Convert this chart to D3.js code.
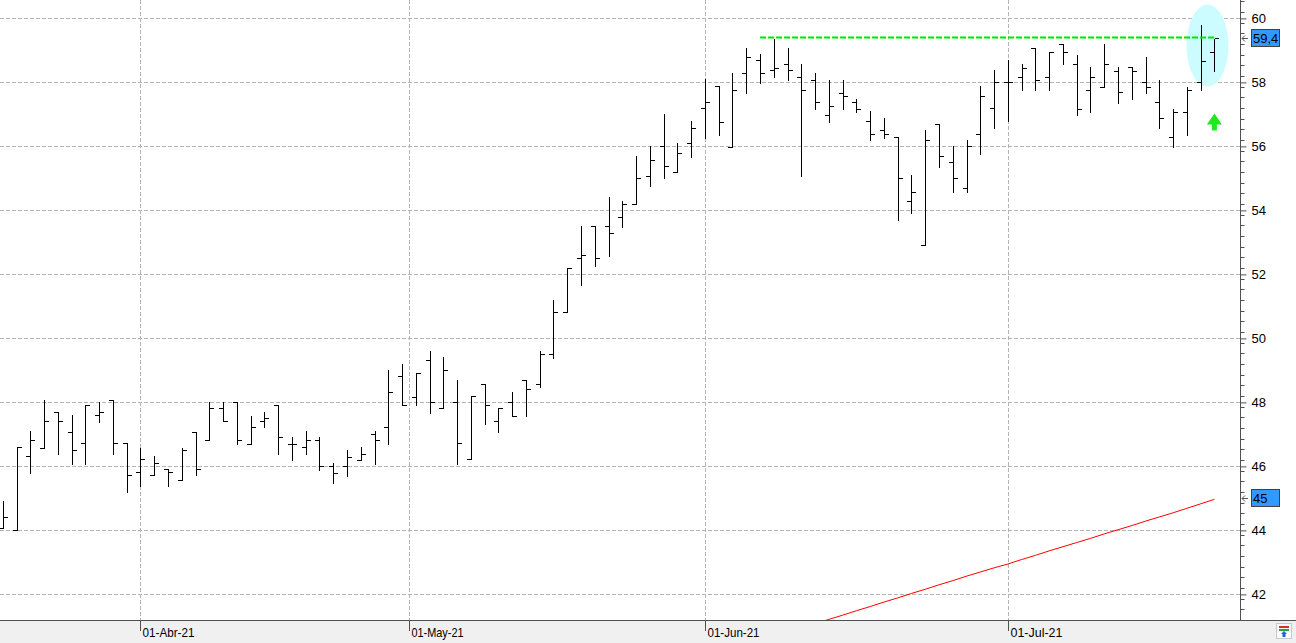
<!DOCTYPE html>
<html>
<head>
<meta charset="utf-8">
<script src="https://cdn.jsdelivr.net/npm/d3@7/dist/d3.min.js"></script>
<style>
  body { margin: 0; background: #fff; overflow: hidden; }
  svg { display: block; }
</style>
</head>
<body>
<svg id="chart"></svg>
<script>
// Trading days (Mar 18 - Jul 22, 2021)
const dates = [
  '2021-03-18','2021-03-19','2021-03-22','2021-03-23','2021-03-24','2021-03-25','2021-03-26','2021-03-29','2021-03-30','2021-03-31',
  '2021-04-01','2021-04-06','2021-04-07','2021-04-08','2021-04-09','2021-04-12','2021-04-13','2021-04-14','2021-04-15','2021-04-16',
  '2021-04-19','2021-04-20','2021-04-21','2021-04-22','2021-04-23','2021-04-26','2021-04-27','2021-04-28','2021-04-29','2021-04-30',
  '2021-05-03','2021-05-04','2021-05-05','2021-05-06','2021-05-07','2021-05-10','2021-05-11','2021-05-12','2021-05-13','2021-05-14',
  '2021-05-17','2021-05-18','2021-05-19','2021-05-20','2021-05-21','2021-05-24','2021-05-25','2021-05-26','2021-05-27','2021-05-28',
  '2021-05-31','2021-06-01','2021-06-02','2021-06-03','2021-06-04','2021-06-07','2021-06-08','2021-06-09','2021-06-10','2021-06-11',
  '2021-06-14','2021-06-15','2021-06-16','2021-06-17','2021-06-18','2021-06-21','2021-06-22','2021-06-23','2021-06-24','2021-06-25',
  '2021-06-28','2021-06-29','2021-06-30','2021-07-01','2021-07-02','2021-07-05','2021-07-06','2021-07-07','2021-07-08','2021-07-09',
  '2021-07-12','2021-07-13','2021-07-14','2021-07-15','2021-07-16','2021-07-19','2021-07-20','2021-07-21','2021-07-22'
];

const opens = [
  44.09,44.00,46.31,46.59,47.69,47.09,46.73,47.60,48.09,46.73,
  45.81,45.72,45.91,45.59,47.09,46.81,47.81,48.00,46.71,47.42,
  47.91,46.71,46.60,46.81,46.00,46.00,46.21,47.00,47.22,48.81,
  48.18,49.31,47.81,48.00,46.22,48.59,47.41,48.00,48.70,48.59,
  49.50,50.81,52.50,53.52,53.50,53.78,54.19,55.09,56.00,55.19,
  56.10,57.19,57.88,55.99,58.28,58.69,58.38,58.58,58.18,58.08,
  56.99,57.68,57.38,56.79,56.50,56.28,54.28,52.91,56.69,55.50,
  54.70,56.38,57.19,58.00,58.18,59.08,58.18,59.19,58.59,57.77,
  57.86,58.36,58.47,58.00,57.38,56.28,57.08,58.00,58.96
];
const highs = [
  44.93,46.60,47.10,48.09,47.69,47.60,47.92,48.00,48.09,46.73,
  46.59,46.31,45.91,46.59,47.09,48.00,48.00,48.00,47.59,47.70,
  47.91,46.91,47.10,46.91,46.10,46.50,46.60,47.10,49.01,49.20,
  48.91,49.60,49.42,48.70,48.20,48.59,47.81,48.31,48.70,49.60,
  51.20,52.19,53.52,53.52,54.42,54.29,55.70,56.00,57.01,56.10,
  56.79,58.10,57.88,58.29,59.09,58.89,59.36,59.09,58.58,58.28,
  58.08,58.08,57.48,57.10,56.88,56.28,55.10,56.51,56.69,56.00,
  56.20,57.88,58.39,58.70,58.59,59.08,58.96,59.19,58.86,58.47,
  59.19,58.47,58.47,58.78,58.08,57.18,57.86,59.78,59.36
];
const lows = [
  44.06,44.00,45.80,46.59,46.40,46.08,46.08,47.40,46.40,45.21,
  45.40,45.72,45.40,45.59,45.72,46.81,47.42,46.71,46.71,47.22,
  46.40,46.21,46.40,45.90,45.49,45.71,46.21,46.08,46.71,47.91,
  47.91,47.68,47.81,46.09,46.22,47.31,47.08,47.59,47.58,48.49,
  49.40,50.81,51.68,52.27,52.58,53.49,54.19,54.77,55.00,55.19,
  55.68,56.26,56.36,55.99,57.68,57.98,58.17,58.07,55.07,57.18,
  56.77,57.18,57.07,56.19,56.27,53.69,53.91,52.91,55.36,54.58,
  54.58,55.77,56.58,56.78,57.76,57.76,57.76,58.57,56.98,57.07,
  57.86,57.35,57.48,57.66,56.57,55.99,56.35,57.76,58.36
];
const closes = [
  44.42,46.60,46.81,47.41,47.41,46.50,47.92,47.69,46.73,45.72,
  46.22,46.10,45.81,46.50,45.91,47.81,47.42,46.81,47.22,47.50,
  46.91,46.71,46.81,46.00,45.80,46.30,46.40,46.81,48.31,47.91,
  48.91,48.00,49.00,46.73,48.20,47.91,47.81,47.59,48.41,49.50,
  50.81,52.19,52.60,52.50,53.28,54.19,55.00,55.59,55.38,55.78,
  56.59,57.38,56.77,57.77,58.78,58.28,58.46,58.38,57.77,57.38,
  57.27,57.58,57.18,56.38,56.38,55.01,54.59,56.20,55.69,55.01,
  56.00,57.59,58.00,58.00,58.46,58.08,58.96,58.96,57.18,58.18,
  58.59,57.69,58.36,57.86,56.88,57.08,57.77,58.68,59.38
];

// Long moving average (red), only the visible tail
const maValues = [
  null,null,null,null,null,null,null,null,null,null,
  null,null,null,null,null,null,null,null,null,null,
  null,null,null,null,null,null,null,null,null,null,
  null,null,null,null,null,null,null,null,null,null,
  null,null,null,null,null,null,null,null,null,null,
  null,null,null,null,null,null,null,null,null,41.08,
  41.22,41.35,41.49,41.62,41.76,41.89,42.03,42.16,42.30,42.43,
  42.57,42.70,42.83,42.95,43.09,43.22,43.36,43.49,43.62,43.75,
  43.89,44.02,44.15,44.29,44.42,44.55,44.69,44.83,44.97
];

const yTicks = [42, 44, 46, 48, 50, 52, 54, 56, 58, 60];
const monthStarts = ['2021-04-01', '2021-05-01', '2021-06-01', '2021-07-01'];
const monthLabels = ['01-Abr-21', '01-May-21', '01-Jun-21', '01-Jul-21'];

// Resistance line and price tags
const resistance = { level: 59.4, from: 55, to: 88 };
const priceTags = [
  { value: 59.4, text: '59,4' },
  { value: 45.0, text: '45' }
];

const W = 1296, H = 643;
const plotW = 1240, plotH = 620;

const svg = d3.select('#chart')
  .attr('width', W)
  .attr('height', H)
  .style('font-family', '"Liberation Sans", Arial, sans-serif');

const x = d3.scaleLinear().domain([-0.2, 89.86]).range([0, plotW]);
const y = d3.scaleLinear().domain([41.2, 60.575]).range([plotH, 0]);

const bars = dates.map((d, i) => ({
  i, date: d, o: opens[i], h: highs[i], l: lows[i], c: closes[i]
}));

// month tick positions (between bars when the 1st is not a trading day)
const monthTicks = monthStarts.map((m, k) => {
  const idx = dates.findIndex(d => d >= m);
  return { pos: dates[idx] === m ? idx : idx - 0.5, label: monthLabels[k] };
});

svg.append('defs').append('clipPath')
  .attr('id', 'plotClip')
  .append('rect')
  .attr('width', plotW)
  .attr('height', plotH);

// background
svg.append('rect').attr('width', W).attr('height', H).attr('fill', '#fff');

// horizontal grid
svg.append('g')
  .selectAll('line')
  .data(yTicks)
  .join('line')
  .attr('x1', 0)
  .attr('x2', plotW)
  .attr('y1', d => Math.round(y(d)) + 0.5)
  .attr('y2', d => Math.round(y(d)) + 0.5)
  .attr('stroke', '#b4b4b4')
  .attr('stroke-dasharray', '4,2');

// vertical grid at month starts
svg.append('g')
  .selectAll('line')
  .data(monthTicks)
  .join('line')
  .attr('x1', d => Math.round(x(d.pos)) + 0.5)
  .attr('x2', d => Math.round(x(d.pos)) + 0.5)
  .attr('y1', 0)
  .attr('y2', plotH)
  .attr('stroke', '#b4b4b4')
  .attr('stroke-dasharray', '4,2');

const plot = svg.append('g').attr('clip-path', 'url(#plotClip)');

// highlight ellipse around the last bars
plot.append('ellipse')
  .attr('cx', x(87.5))
  .attr('cy', y(59.15))
  .attr('rx', 21)
  .attr('ry', 41)
  .attr('fill', '#ccfcff');

// moving average
const maLine = d3.line()
  .defined(d => d != null)
  .x((d, i) => x(i))
  .y(d => y(d));

plot.append('path')
  .datum(maValues)
  .attr('d', maLine)
  .attr('fill', 'none')
  .attr('stroke', '#ff0000')
  .attr('stroke-width', 1);

// OHLC bars
const px = v => Math.round(v) + 0.5;
const barG = plot.append('g')
  .selectAll('g')
  .data(bars)
  .join('g')
  .attr('stroke', '#000')
  .attr('stroke-width', 1)
  .attr('shape-rendering', 'crispEdges');

barG.append('line')
  .attr('x1', d => px(x(d.i)))
  .attr('x2', d => px(x(d.i)))
  .attr('y1', d => Math.round(y(d.h)))
  .attr('y2', d => Math.round(y(d.l)) + 1);

barG.append('line')
  .attr('x1', d => px(x(d.i)) - 4.5)
  .attr('x2', d => px(x(d.i)))
  .attr('y1', d => px(y(d.o)))
  .attr('y2', d => px(y(d.o)));

barG.append('line')
  .attr('x1', d => px(x(d.i)))
  .attr('x2', d => px(x(d.i)) + 4.5)
  .attr('y1', d => px(y(d.c)))
  .attr('y2', d => px(y(d.c)));

// resistance line
plot.append('line')
  .attr('x1', x(resistance.from))
  .attr('x2', x(resistance.to))
  .attr('y1', y(resistance.level))
  .attr('y2', y(resistance.level))
  .attr('stroke', '#00e600')
  .attr('stroke-width', 2)
  .attr('stroke-dasharray', '6,2');

// green up arrow
const ax = x(88), ay = y(57.03);
plot.append('path')
  .attr('d', `M${ax},${ay} L${ax + 7.5},${ay + 11} L${ax + 2.5},${ay + 11} L${ax + 2.5},${ay + 17}
    L${ax - 2.5},${ay + 17} L${ax - 2.5},${ay + 11} L${ax - 7.5},${ay + 11} Z`)
  .attr('fill', '#1ee81e');

// right axis
const axisG = svg.append('g')
  .attr('transform', `translate(${plotW + 0.5},0)`);

axisG.append('line')
  .attr('y1', 0)
  .attr('y2', plotH)
  .attr('stroke', '#505050');

const minorTicks = d3.range(41.2 + 1 / 3, 60.6, 1 / 3).filter(v => Math.abs(v - Math.round(v / 2) * 2) > 0.1);

axisG.append('g')
  .selectAll('line')
  .data(minorTicks)
  .join('line')
  .attr('x1', 0)
  .attr('x2', 4)
  .attr('y1', d => px(y(d)))
  .attr('y2', d => px(y(d)))
  .attr('stroke', '#505050');

axisG.append('g')
  .call(d3.axisRight(y).tickValues(yTicks).tickSize(6).tickPadding(5).tickFormat(d3.format('d')))
  .call(g => g.select('.domain').remove())
  .call(g => g.selectAll('.tick line').attr('stroke', '#505050'))
  .call(g => g.selectAll('.tick text')
    .attr('fill', '#000')
    .style('font-size', '13px')
    .style('font-family', '"Liberation Sans", Arial, sans-serif'));

// price tags on the axis
const tags = svg.append('g')
  .selectAll('g')
  .data(priceTags)
  .join('g')
  .attr('transform', d => `translate(0,${Math.round(y(d.value))})`);

tags.append('path')
  .attr('d', 'M1248,0.5 L1242,0.5 M1245,-2.5 L1242,0.5 L1245,3.5')
  .attr('fill', 'none')
  .attr('stroke', '#555');

tags.append('rect')
  .attr('x', 1251.5)
  .attr('y', -8.5)
  .attr('width', 28)
  .attr('height', 17)
  .attr('fill', '#3399ff')
  .attr('stroke', '#404040');

tags.append('text')
  .attr('x', 1253)
  .attr('y', 5)
  .style('font-size', '13px')
  .attr('fill', '#000')
  .text(d => d.text);

// bottom date band
svg.append('rect')
  .attr('x', 0)
  .attr('y', plotH)
  .attr('width', W)
  .attr('height', H - plotH)
  .attr('fill', '#f0f0f0');

svg.append('line')
  .attr('x1', 0)
  .attr('x2', W)
  .attr('y1', plotH + 0.5)
  .attr('y2', plotH + 0.5)
  .attr('stroke', '#505050');

const dateTicks = svg.append('g')
  .selectAll('g')
  .data(monthTicks)
  .join('g')
  .attr('transform', d => `translate(${Math.round(x(d.pos)) + 0.5},${plotH})`);

dateTicks.append('line')
  .attr('y1', 0)
  .attr('y2', 11)
  .attr('stroke', '#505050');

dateTicks.append('text')
  .attr('x', 2)
  .attr('y', 17)
  .attr('textLength', 52)
  .attr('lengthAdjust', 'spacingAndGlyphs')
  .style('font-size', '13px')
  .attr('fill', '#000')
  .text(d => d.label);

// small toolbar icon bottom-right
const icon = svg.append('g').attr('transform', 'translate(1276,623)');
icon.append('rect')
  .attr('x', 0.5).attr('y', 0.5).attr('width', 15).attr('height', 15)
  .attr('fill', '#fafafa').attr('stroke', '#c8c8c8');
icon.append('rect').attr('x', 3).attr('y', 3).attr('width', 10).attr('height', 2).attr('fill', '#d03030');
icon.append('rect').attr('x', 3).attr('y', 6).attr('width', 10).attr('height', 2).attr('fill', '#30a030');
icon.append('path').attr('d', 'M8,8 L11,11 L9.5,11 L9.5,14 L6.5,14 L6.5,11 L5,11 Z').attr('fill', '#2060e0');
</script>
</body>
</html>
